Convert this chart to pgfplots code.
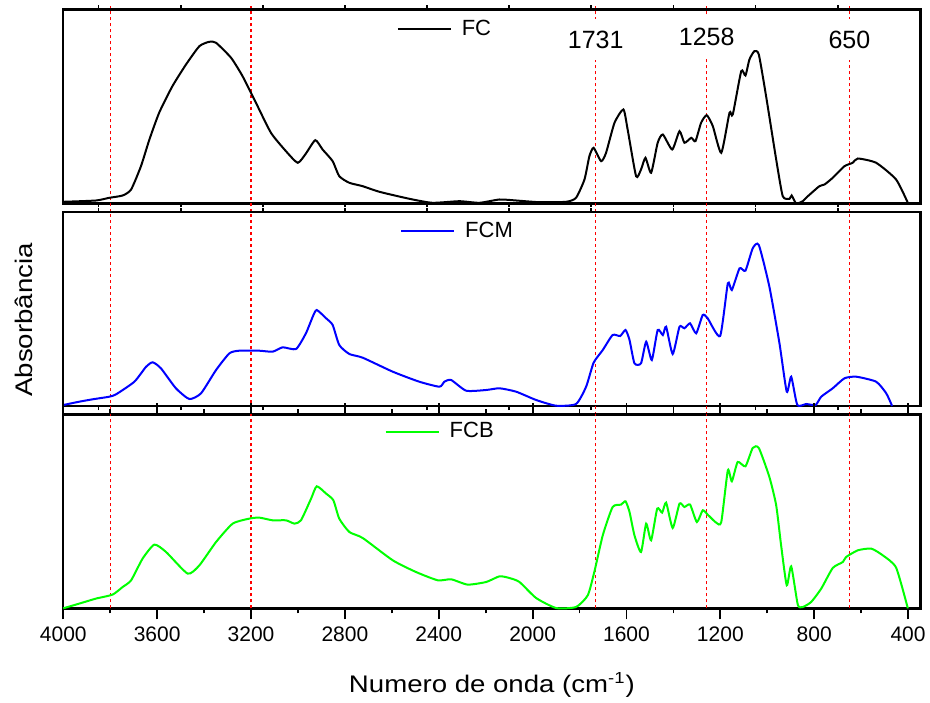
\documentclass[border=0pt]{standalone}
\usepackage{pgfplots}
\pgfplotsset{compat=1.18}
\usepackage{fontspec}
\setmainfont{Liberation Sans}
\newfontfamily\widefont[FakeStretch=1.15]{Liberation Sans}

\tikzset{vline/.style={red, line width=0.55pt, dash pattern=on 1.7pt off 1.3pt}}
\pgfplotsset{
 panel/.style={
  width=428.6pt, height=97pt, scale only axis,
  xmin=347, xmax=4000, x dir=reverse, ymin=0, ymax=194,
  ytick=\empty, axis line style={line width=1.2pt}, clip=false,
  tick style={line width=0.9pt, black},
  tick align=outside,
  legend image code/.code={\draw[##1, line width=1pt] (0pt,0pt) -- (26.5pt,0pt);},
  legend style={draw=none, fill=none, inner sep=0pt, outer sep=0pt, anchor=west,
    font=\fontsize{11}{13}\selectfont, nodes={inner sep=0pt},
    /tikz/every odd column/.append style={column sep=5pt}},
  anchor=south west,
 },
 upper/.style={panel, xticklabels={}, xtick={700,1050,...,3850}, major tick length=2pt},
}

\begin{document}
\begin{tikzpicture}
\path[use as bounding box] (0,0) rectangle (465pt,351pt);

% ---------- top panel ----------
\begin{axis}[upper, at={(31.65pt,249.25pt)}, legend style={at={(0.389,0.897)}}]
\draw[vline] (axis cs:3800,-9) -- (axis cs:3800,197);
\draw[vline] (axis cs:3200,-9) -- (axis cs:3200,197);
\draw[vline] (axis cs:1731,-9) -- (axis cs:1731,197);
\draw[vline] (axis cs:1258,-9) -- (axis cs:1258,197);
\draw[vline] (axis cs:650,-9) -- (axis cs:650,197);
\addplot[black, line width=1pt, smooth, tension=0.35] coordinates {
(4000,1.7)(3861,3)(3804,5.7)(3747,8)(3711,14)(3669,37.3)(3633,64)(3591,91)(3535,117.3)(3477,139)(3420,157.3)(3378,161.7)(3349,160.7)(3285,145.7)(3236,127.3)(3179,100.7)(3115,70.7)(3051,52.3)(3001,40.7)(2966,50)(2926,63.3)(2895,54)(2852,42.3)(2824,27.3)(2781,20.7)(2724,17.3)(2653,11.7)(2525,4.7)(2427,0.7)(2312,2.3)(2227,0.7)(2141,4)(2070,3)(1971,1.3)(1857,1.7)(1815,5.7)(1779,24)(1758,47.3)(1740,55.7)(1708,42.3)(1687,50.7)(1651,80.7)(1613,94)(1595,74)(1559,27.3)(1538,34)(1519,45.7)(1495,30.7)(1467,60.7)(1445,69)(1405,54)(1374,72.3)(1353,60.7)(1324,65.7)(1306,62.3)(1282,80.7)(1258,88.3)(1232,77.3)(1196,50.7)(1161,90.7)(1147,89)(1111,132.3)(1093,128)(1076,144)(1055,152.3)(1036,149)(1005,107.3)(962,44)(934,7.3)(905,4.7)(896,8)(877,0)(849,2.3)(827,7.3)(778,17.3)(756,19)(721,25.7)(671,37.3)(636,40.7)(614,45)(536,40.7)(451,24)(401,0.7)
};
\addlegendentry{FC}
\node[fill=white, inner xsep=1pt, inner ysep=6pt, font=\fontsize{12.5}{14}\selectfont] at (axis cs:1731,164) {1731};
\node[fill=white, inner xsep=1pt, inner ysep=6pt, font=\fontsize{12.5}{14}\selectfont] at (axis cs:1258,167) {1258};
\node[fill=white, inner xsep=1pt, inner ysep=6pt, font=\fontsize{12.5}{14}\selectfont] at (axis cs:650,164) {650};
\end{axis}

% ---------- middle panel ----------
\begin{axis}[upper, at={(31.65pt,148pt)}, legend style={at={(0.393,0.90)}}]
\draw[vline] (axis cs:3800,-9) -- (axis cs:3800,194);
\draw[vline] (axis cs:3200,-9) -- (axis cs:3200,194);
\draw[vline] (axis cs:1731,-9) -- (axis cs:1731,194);
\draw[vline] (axis cs:1258,-9) -- (axis cs:1258,194);
\draw[vline] (axis cs:650,-9) -- (axis cs:650,194);
\addplot[blue, line width=1pt, smooth, tension=0.35] coordinates {
(4000,1)(3932,4.3)(3875,6.7)(3804,9.3)(3775,11.7)(3697,24.3)(3647,39.3)(3619,43.7)(3584,37.7)(3520,17.7)(3463,7)(3413,12.7)(3349,36)(3292,52.7)(3250,55.3)(3165,55.3)(3108,54.3)(3065,58.7)(3008,57)(2966,72.7)(2937,89.3)(2920,96)(2880,87.7)(2852,81)(2824,61)(2781,52)(2724,48.3)(2596,34.3)(2483,24.3)(2397,19.3)(2376,24.3)(2347,26)(2283,15.3)(2198,16)(2141,17.7)(2070,14.3)(1985,6)(1900,0.3)(1815,2)(1772,19.3)(1740,43.3)(1701,56)(1659,71)(1627,70)(1604,76)(1587,66)(1566,42.7)(1538,42.7)(1516,64.3)(1492,46)(1467,76)(1445,71)(1431,79.3)(1403,52)(1374,79.3)(1353,77.7)(1329,82.7)(1303,72.7)(1275,91)(1254,87.7)(1201,70)(1168,122.7)(1151,116)(1118,137.7)(1093,135.3)(1062,157.7)(1036,161)(991,119.3)(948,62.7)(917,14.3)(898,29.3)(872,1)(834,2)(794,1)(770,9.3)(721,17.7)(671,27.7)(621,29.3)(536,24.3)(493,12.7)(468,0)
};
\addlegendentry{FCM}
\node[rotate=90, anchor=south, inner sep=0pt, font=\fontsize{12}{14}\selectfont\widefont] at ([xshift=-15pt]rel axis cs:0,0.444) {Absorbância};
\end{axis}

% ---------- bottom panel ----------
\begin{axis}[panel, at={(31.65pt,46.85pt)}, legend style={at={(0.375,0.91)}},
  xtick={400,800,...,4000}, minor xtick={600,1000,...,3800},
  major tick length=5.5pt, minor tick length=2.5pt,
  xticklabel style={font=\fontsize{10.5}{12}\selectfont},
  /pgf/number format/assume math mode=true,
  /pgf/number format/set thousands separator={},
  xlabel={\widefont Numero de onda (cm\textsuperscript{-1})},
  xlabel style={font=\fontsize{12}{14}\selectfont, at={(rel axis cs:0.5,0)}, anchor=base, yshift=-42pt}]
\draw[vline] (axis cs:3800,0) -- (axis cs:3800,194);
\draw[vline] (axis cs:3200,0) -- (axis cs:3200,194);
\draw[vline] (axis cs:1731,0) -- (axis cs:1731,194);
\draw[vline] (axis cs:1258,0) -- (axis cs:1258,194);
\draw[vline] (axis cs:650,0) -- (axis cs:650,194);
\addplot[green, line width=1pt, smooth, tension=0.35] coordinates {
(4000,0)(3932,4.7)(3861,9.7)(3790,13.7)(3747,21.3)(3711,28)(3662,49.7)(3612,63.7)(3562,56.3)(3470,34.7)(3420,43)(3349,66.3)(3278,84.7)(3207,89.7)(3165,90.7)(3108,88)(3051,88)(3015,84.7)(2987,88)(2944,109.7)(2920,122)(2880,114.7)(2849,108)(2824,89.7)(2781,76.3)(2724,70.3)(2596,48)(2497,36.3)(2404,28)(2347,29)(2277,23.7)(2198,26.3)(2141,32)(2099,30.3)(2056,26.3)(1985,10.3)(1900,0.3)(1815,1.3)(1765,13)(1737,36.3)(1701,73)(1659,101.3)(1623,103.7)(1604,107)(1587,96.3)(1566,73)(1538,56.3)(1516,84.7)(1495,68)(1469,99.7)(1448,95.7)(1431,105.7)(1403,80.3)(1374,104.7)(1353,101.3)(1329,103.7)(1300,86.3)(1275,98)(1254,93.7)(1218,85.7)(1196,86.3)(1168,138)(1151,127)(1126,146.3)(1093,142)(1062,160.3)(1036,160.3)(991,131.3)(962,103)(941,63)(917,23)(898,42)(870,3.7)(849,1.3)(813,6.3)(770,19.7)(721,40.3)(678,46.3)(664,51.3)(614,58)(557,59.7)(508,53)(451,40.7)(401,0)
};
\addlegendentry{FCB}
\end{axis}
\end{tikzpicture}
\end{document}
